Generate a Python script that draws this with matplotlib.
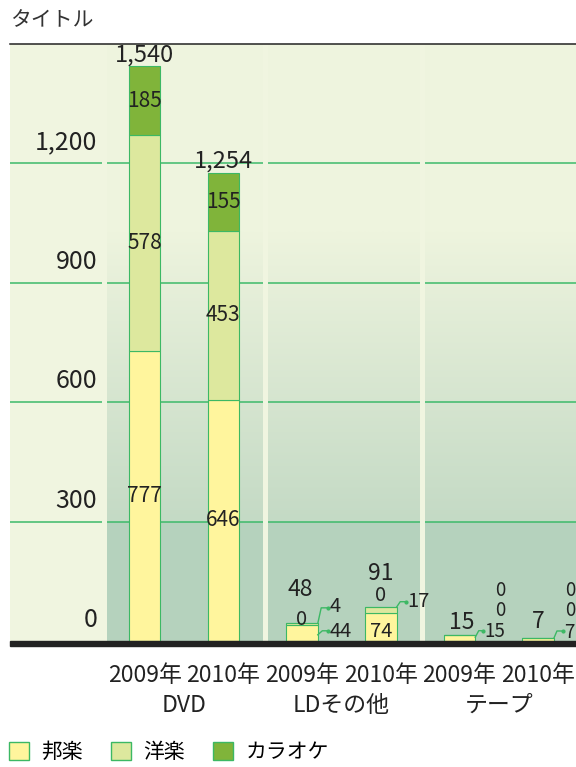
import numpy as np
import matplotlib
matplotlib.use('Agg')
import matplotlib.pyplot as plt
import matplotlib.transforms as mtransforms
from matplotlib.patches import Patch, Rectangle
from matplotlib.colors import LinearSegmentedColormap

plt.rcParams['font.family'] = ['Noto Sans CJK JP', 'DejaVu Sans']

years = ['2009年', '2010年', '2009年', '2010年', '2009年', '2010年']
groups = ['DVD', 'LDその他', 'テープ']
series = ['邦楽', '洋楽', 'カラオケ']
hougaku = [777, 646, 44, 74, 15, 7]
yougaku = [578, 453, 4, 17, 0, 0]
karaoke = [185, 155, 0, 0, 0, 0]
yticks = [0, 300, 600, 900, 1200]

colors = ['#fff59d', '#dde89e', '#80b43a']
edge = '#3cb864'
grid_c = '#3dba6a'
light = '#f0f5e0'
txt = '#222222'

W, H = 576, 767
fig = plt.figure(figsize=(W / 100, H / 100), dpi=100)
ax = fig.add_axes([10 / W, (H - 641) / H, 566 / W, 597 / H])
ax.set_facecolor(light)
x = np.arange(len(years))
xlim = (-1.71, 5.48)

# panel background: solid bottom, gradient in the middle
grad = np.linspace(0, 1, 256).reshape(-1, 1)
cmap = LinearSegmentedColormap.from_list('bg', ['#c4dac5', '#eef4de'])
ax.imshow(grad, extent=[-0.5, xlim[1], 300, 1030], origin='lower', cmap=cmap,
          aspect='auto', zorder=0)
ax.add_patch(Rectangle((-0.5, 0), 6.5, 300, facecolor='#b5d2bd', lw=0, zorder=0))
ax.add_patch(Rectangle((-0.5, 1030), 6.5, 600, facecolor='#eef4de', lw=0, zorder=0))
ax.set_xlim(*xlim)
ax.set_ylim(0, 1500)

ax.hlines(yticks[1:], xlim[0], xlim[1], color=grid_c, lw=1.1, zorder=1)
for s in [-0.51, 1.53, 3.53]:
    ax.axvline(s, color=light, lw=3.6, zorder=2)

for v in yticks:
    ax.annotate(f'{v:,}', (-0.6, v), xytext=(0, 21), textcoords='offset pixels',
                ha='right', va='center', fontsize=18, color=txt)

ax.tick_params(length=0, labelbottom=False, labelleft=False)
for k in ['left', 'right', 'bottom']:
    ax.spines[k].set_visible(False)
ax.spines['top'].set_linewidth(1.1)
ax.spines['top'].set_color(txt)

trans = mtransforms.blended_transform_factory(ax.transData, ax.transAxes)
for i, y in enumerate(years):
    ax.text(i, -34 / 597, y, transform=trans, ha='center', va='center',
            fontsize=16.5, color=txt)
for g, name in enumerate(groups):
    ax.text(2 * g + 0.5, -64 / 597, name, transform=trans, ha='center',
            va='center', fontsize=16.5, color=txt)

# bars
axb = ax.twinx()
axb.set_xlim(*xlim)
axb.set_ylim(0, 1600)
axb.tick_params(right=False, labelright=False)
for k in axb.spines:
    axb.spines[k].set_visible(False)

bottoms = np.zeros(len(x))
for vals, c, name in zip([hougaku, yougaku, karaoke], colors, series):
    axb.bar(x, vals, 0.4, bottom=bottoms, color=c, edgecolor=edge, lw=0.8,
            label=name, zorder=3)
    bottoms += np.array(vals)
totals = bottoms


def put(xv, v, text, dx, dy, size=14.5, ha='center'):
    axb.annotate(text, (xv, v), xytext=(dx, dy), textcoords='offset pixels',
                 ha=ha, va='center', fontsize=size, color=txt, zorder=5)


def lead(i, v, text, pts, tx, ty, size=14.5):
    x0, y0 = axb.transData.transform((x[i] + 0.2, v))
    xs = [x0 + p[0] for p in pts]
    ys = [y0 + p[1] for p in pts]
    ln = plt.Line2D(xs, ys, transform=mtransforms.IdentityTransform(),
                    color=edge, lw=1.0, marker='o', markersize=2,
                    markevery=[len(pts) - 1], zorder=5)
    axb.add_line(ln)
    put(x[i] + 0.2, v, text, tx, ty, size=size, ha='left')


# big bars: labels inside each segment, total on top
for i in [0, 1]:
    base = 0
    for vals in [hougaku, yougaku, karaoke]:
        put(x[i], base + vals[i] / 2, str(vals[i]), 0, 0, size=15)
        base += vals[i]
    axb.annotate(f'{int(totals[i]):,}', (x[i], totals[i]), xytext=(0, 5),
                 textcoords='offset pixels', ha='center', va='baseline',
                 fontsize=17, color=txt)

# LDその他 2009
lead(2, hougaku[2] / 2, str(hougaku[2]), [(0, -2), (4.5, 2), (10, 2)], 12, 1.5)
lead(2, hougaku[2] + yougaku[2] / 2, str(yougaku[2]),
     [(0, 0.5), (3.4, 16), (10, 16)], 12, 17)
put(x[2], totals[2], str(karaoke[2]), 0, 4)
put(x[2], totals[2], f'{int(totals[2])}', -2, 34, size=16.5)

# LDその他 2010
put(x[3], hougaku[3] / 2, str(hougaku[3]), 0, -4)
lead(3, hougaku[3] + yougaku[3] / 2, str(yougaku[3]),
     [(0, 3), (3.7, 8.5), (9.7, 8.5)], 11, 9)
put(x[3], totals[3], str(karaoke[3]), 0, 12)
put(x[3], totals[3], f'{int(totals[3])}', 0, 34, size=16.5)

# テープ 2009
lead(4, hougaku[4] / 2, str(hougaku[4]), [(0, 1), (3.5, 7.5), (7.5, 7.5)],
     9.5, 6.5, size=13.5)
put(x[4] + 0.2, totals[4], str(yougaku[4]), 25.4, 24.5, size=13.5)
put(x[4] + 0.2, totals[4], str(karaoke[4]), 25.4, 44.5, size=13.5)
put(x[4], totals[4], f'{int(totals[4])}', 2.4, 12.7, size=16.5)

# テープ 2010
lead(5, hougaku[5] / 2, str(hougaku[5]), [(0, 1.7), (3, 8.7), (9, 8.7)],
     10, 7.5, size=13.5)
put(x[5] + 0.2, totals[5], str(yougaku[5]), 16, 27.5, size=13.5)
put(x[5] + 0.2, totals[5], str(karaoke[5]), 16, 47.5, size=13.5)
put(x[5], totals[5], f'{int(totals[5])}', 0, 16.4, size=16.5)

# thick baseline
fig.add_artist(Rectangle((10 / W, (H - 646) / H), 566 / W, 5 / H,
                         transform=fig.transFigure, color=txt, zorder=10))

fig.text(10 / W, 1 - 20 / H, 'タイトル', fontsize=15, va='center', color='#333333')

handles = [Patch(facecolor=c, edgecolor=edge, lw=1) for c in colors]
fig.legend(handles, series, loc='center left', bbox_to_anchor=(9 / W, 1 - 752 / H),
           ncol=3, frameon=False, fontsize=15, handlelength=0.95, handleheight=0.95,
           handletextpad=0.6, columnspacing=1.35, borderpad=0, borderaxespad=0)

fig.savefig('out.png', dpi=100)
